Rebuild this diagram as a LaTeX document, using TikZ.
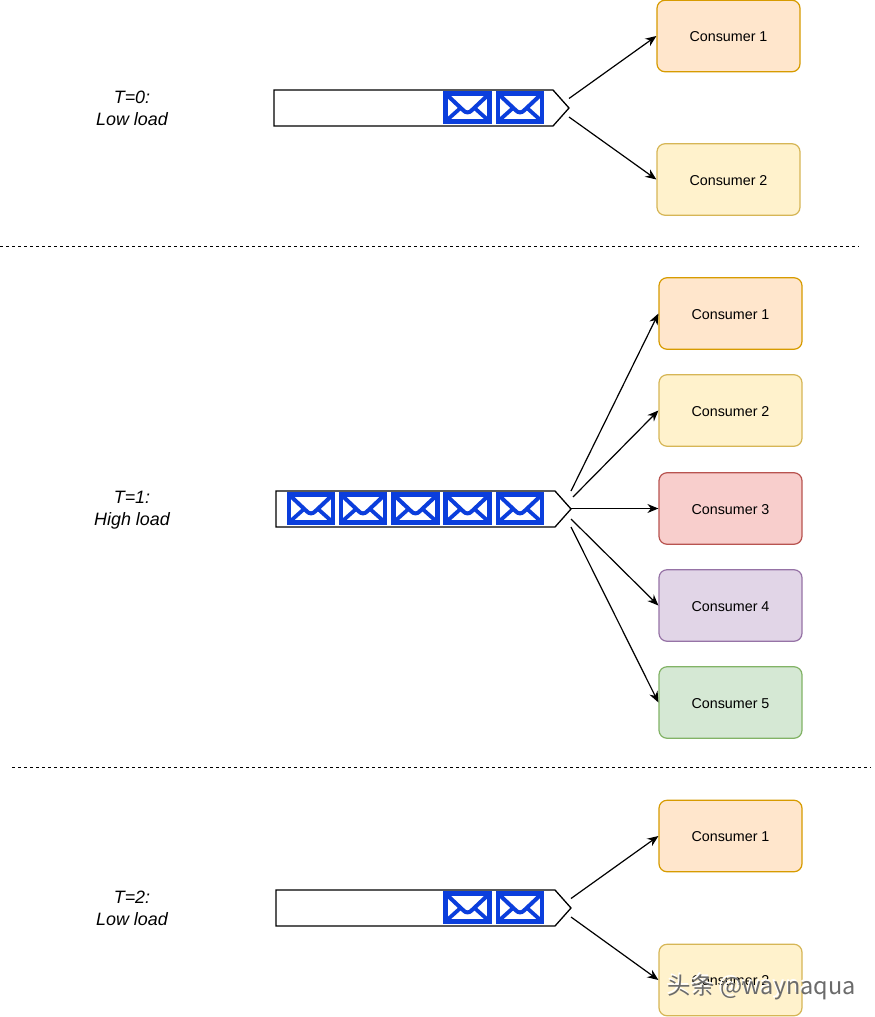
\documentclass[tikz,border=0pt]{standalone}
\usepackage{fontspec}
\setmainfont{Liberation Sans}
\newfontfamily\cjkwm{Noto Sans CJK SC}
\usetikzlibrary{arrows.meta}
\definecolor{mailblue}{HTML}{0B3EDC}
\definecolor{cOf}{HTML}{FFE6CC}\definecolor{cOd}{HTML}{D79B00}
\definecolor{cYf}{HTML}{FFF2CC}\definecolor{cYd}{HTML}{D6B656}
\definecolor{cRf}{HTML}{F8CECC}\definecolor{cRd}{HTML}{B85450}
\definecolor{cPf}{HTML}{E1D5E7}\definecolor{cPd}{HTML}{9673A6}
\definecolor{cGf}{HTML}{D5E8D4}\definecolor{cGd}{HTML}{82B366}
\tikzset{
  x=1pt,y=-1pt,
  consumer/.style={line width=1.2pt,rounded corners=8pt,minimum width=143pt,minimum height=71.5pt,inner sep=0pt,font=\fontsize{14.3}{17}\selectfont,text=black,text height=11.6pt,text depth=0pt},
  cons orange/.style={consumer,draw=cOd,fill=cOf},
  cons yellow/.style={consumer,draw=cYd,fill=cYf},
  cons red/.style={consumer,draw=cRd,fill=cRf},
  cons purple/.style={consumer,draw=cPd,fill=cPf},
  cons green/.style={consumer,draw=cGd,fill=cGf},
  link/.style={draw=black,line width=1.2pt,-{Stealth[length=11pt,width=9pt]}},
  sep/.style={draw=black,line width=1pt,dash pattern=on 3.4pt off 2.6pt},
  queue/.style={draw=black,line width=1.3pt,fill=white},
  lbl/.style={font=\fontsize{17.9}{22}\selectfont\itshape,align=center,text=black,inner sep=0pt},
  mail/.pic={
    \draw[draw=mailblue,line width=4.2pt,fill=white] (0,0) rectangle (44,28);
    \draw[draw=mailblue,line width=4pt,line join=round]
      (1,1) -- (18,17) .. controls (20,19.5) and (24,19.5) .. (26,17) -- (43,1);
    \draw[draw=mailblue,line width=3.8pt] (1,27) -- (15,14.5);
    \draw[draw=mailblue,line width=3.8pt] (43,27) -- (29,14.5);
  }
}
\begin{document}
\begin{tikzpicture}
\useasboundingbox (0,0) rectangle (875,1017);
\fill[white] (0,0) rectangle (875,1017);

% separators
\coordinate (s1a) at (0,246); \coordinate (s1b) at (858.6,246);
\coordinate (s2a) at (12,767); \coordinate (s2b) at (870.6,767);
\draw[sep] (s1a) -- (s1b);
\draw[sep] (s2a) -- (s2b);

% labels
\node[lbl] (t0) at (132,108.5) {T=0:\\Low load};
\node[lbl] (t1) at (132,510) {T=1:\\High load};
\node[lbl] (t2) at (132,908.5) {T=2:\\Low load};

% queues
\draw[queue] (274,90) -- (553,90) -- (569,108) -- (553,126) -- (274,126) -- cycle;
\draw[queue] (276,491) -- (555,491) -- (571,509) -- (555,527) -- (276,527) -- cycle;
\draw[queue] (276,890) -- (555,890) -- (571,908) -- (555,926) -- (276,926) -- cycle;

% messages
\pic at (445.5,93.5) {mail};
\pic at (498,93.5) {mail};
\pic at (289,494.5) {mail};
\pic at (341,494.5) {mail};
\pic at (393.5,494.5) {mail};
\pic at (445.5,494.5) {mail};
\pic at (498,494.5) {mail};
\pic at (445.5,893.5) {mail};
\pic at (498,893.5) {mail};

% consumers
\node[cons orange] (a1) at (728.5,36) {Consumer 1};
\node[cons yellow] (a2) at (728.5,179.5) {Consumer 2};
\node[cons orange] (b1) at (730.5,313.5) {Consumer 1};
\node[cons yellow] (b2) at (730.5,410.5) {Consumer 2};
\node[cons red] (b3) at (730.5,508.5) {Consumer 3};
\node[cons purple] (b4) at (730.5,605.5) {Consumer 4};
\node[cons green] (b5) at (730.5,702.5) {Consumer 5};
\node[cons orange] (c1) at (730.5,836) {Consumer 1};
\node[cons yellow] (c2) at (730.5,980) {Consumer 2};

% connector starts
\coordinate (qa1) at (569,98.5);
\coordinate (qa2) at (569,117);
\coordinate (qb1) at (571,491);
\coordinate (qb2) at (573,497);
\coordinate (qb3) at (571,508.5);
\coordinate (qb4) at (571,519);
\coordinate (qb5) at (571,527);
\coordinate (qc1) at (571,898.5);
\coordinate (qc2) at (571,917);

\draw[link] (qa1) -- (a1.west);
\draw[link] (qa2) -- (a2.west);
\draw[link] (qb1) -- (b1.west);
\draw[link] (qb2) -- (b2.west);
\draw[link] (qb3) -- (b3.west);
\draw[link] (qb4) -- (b4.west);
\draw[link] (qb5) -- (b5.west);
\draw[link] (qc1) -- (c1.west);
\draw[link] (qc2) -- (c2.west);

% watermark
\node[font=\fontsize{23.5}{26}\selectfont,text=white,anchor=west,inner sep=0pt] (wm) at (666.4,985.8) {\cjkwm 头条 @waynaqua};
\node[font=\fontsize{23.5}{26}\selectfont,text=black!58,anchor=west,inner sep=0pt] (wms) at (667.6,987) {\cjkwm 头条 @waynaqua};
\end{tikzpicture}
\end{document}
